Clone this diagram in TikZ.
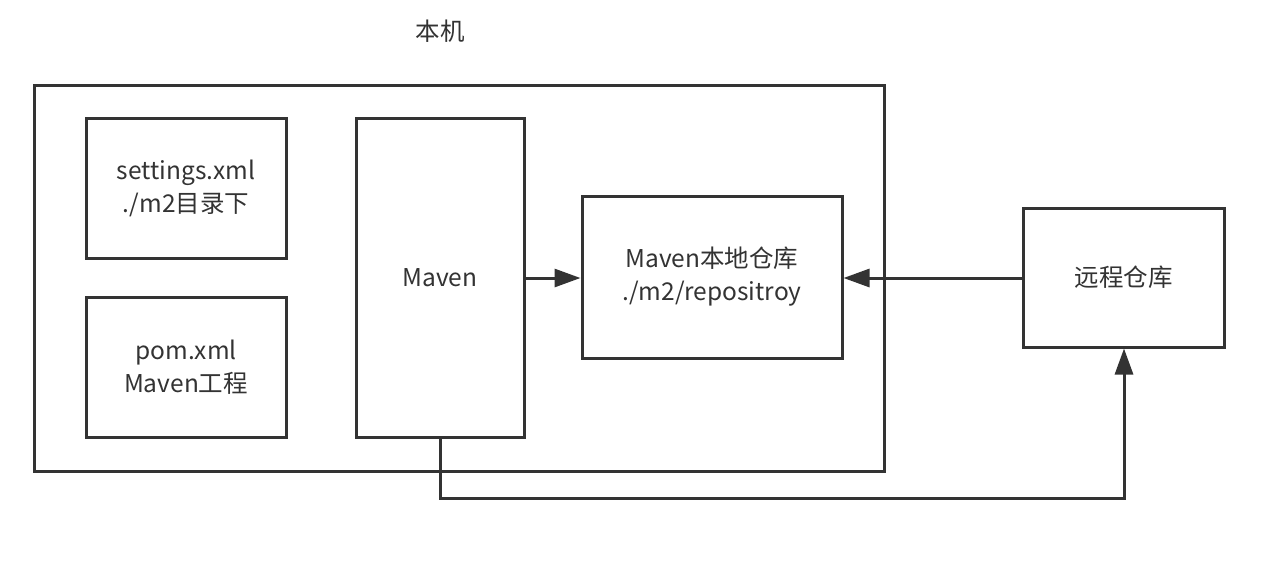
\documentclass[tikz,border=0pt]{standalone}
\usepackage{fontspec}
\setmainfont{Noto Sans CJK SC}
\usetikzlibrary{arrows.meta}
\begin{document}
\begin{tikzpicture}[x=1pt,y=-1pt,
  lbl/.style={font=\fontsize{24.5}{33}\selectfont,text=black!80,align=center},
  box/.style={draw=black!80,line width=3pt,inner sep=0pt,lbl},
  conn/.style={draw=black!80,line width=3pt,-{Triangle[length=26pt,width=18pt]}}]
\useasboundingbox (0,0) rectangle (1266,566);
\fill[white] (0,0) rectangle (1266,566);
\node[lbl] (title) at (440,31) {本机};
\draw[draw=black!80,line width=3pt] (34,85) rectangle (884,471);
\node[box,minimum width=200pt,minimum height=140pt] (settings) at (186,188) {settings.xml\\./m2目录下};
\node[box,minimum width=200pt,minimum height=140pt] (pom) at (186,367) {pom.xml\\Maven工程};
\node[box,minimum width=168pt,minimum height=319pt] (maven) at (440,277.5) {Maven};
\node[box,minimum width=260pt,minimum height=162pt] (local) at (712,277) {Maven本地仓库\\./m2/repositroy};
\node[box,minimum width=201pt,minimum height=139pt] (remote) at (1123.5,277.5) {远程仓库};
\draw[conn] (maven.east |- 0,278) -- (local.west |- 0,278);
\draw[conn] (remote.west |- 0,278) -- (local.east |- 0,278);
\coordinate (c1) at (440,498);
\coordinate (c2) at (1124,498);
\draw[conn] (maven.south) -- (c1) -- (c2) -- (remote.south -| c2);
\end{tikzpicture}
\end{document}
